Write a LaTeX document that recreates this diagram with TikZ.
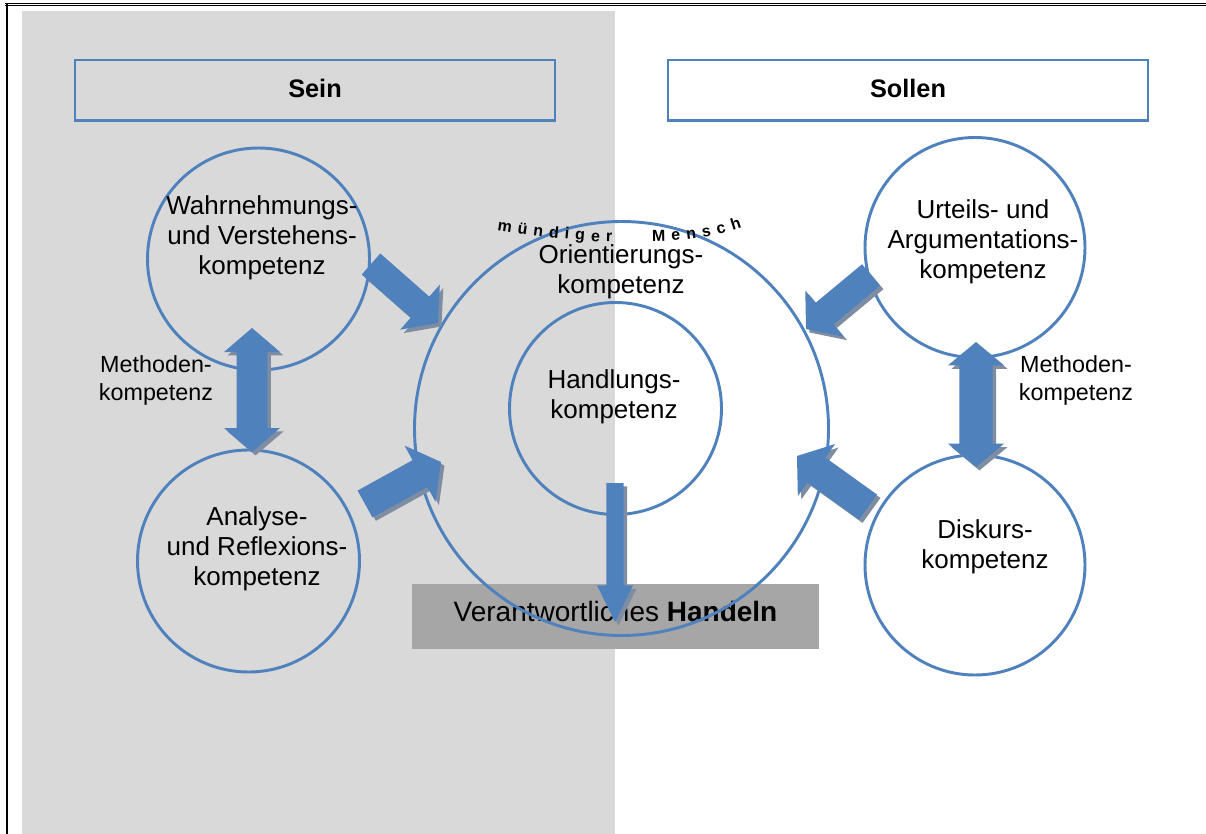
\documentclass[tikz,border=0pt]{standalone}
\usepackage{fontspec}
\setmainfont{Liberation Sans}
\usetikzlibrary{calc,decorations.text}
\definecolor{kblue}{HTML}{4F81BD}
\definecolor{panelgray}{HTML}{D9D9D9}
\definecolor{hboxgray}{HTML}{A6A6A6}
\definecolor{shadowc}{HTML}{7F8DA3}
% single block arrow: #1 tail, #2 tip, #3 half shaft, #4 half head, #5 head length, #6 style
\newcommand\blkarrow[6]{%
  \coordinate (nk) at ($(#2)!#5!(#1)$);
  \path[#6] ($(#1)!#3!90:(#2)$) -- ($(nk)!#3!90:(#2)$) -- ($(nk)!#4!90:(#2)$) -- (#2)
    -- ($(nk)!#4!-90:(#2)$) -- ($(nk)!#3!-90:(#2)$) -- ($(#1)!#3!-90:(#2)$) -- cycle;}
% double block arrow
\newcommand\dblarrow[6]{%
  \coordinate (nka) at ($(#1)!#5!(#2)$);
  \coordinate (nkb) at ($(#2)!#5!(#1)$);
  \path[#6] (#1) -- ($(nka)!#4!90:(#2)$) -- ($(nka)!#3!90:(#2)$) -- ($(nkb)!#3!-90:(#1)$)
    -- ($(nkb)!#4!-90:(#1)$) -- (#2) -- ($(nkb)!#4!90:(#1)$) -- ($(nkb)!#3!90:(#1)$)
    -- ($(nka)!#3!-90:(#2)$) -- ($(nka)!#4!-90:(#2)$) -- cycle;}
\tikzset{
  ring/.style={circle, draw=kblue, line width=2.2pt, inner sep=0pt},
  headbox/.style={draw=kblue, line width=2pt, minimum width=360pt, minimum height=45.5pt},
  headtext/.style={font=\fontsize{19}{22.5}\selectfont\bfseries},
  ctext/.style={align=center, font=\fontsize{19.5}{22.5}\selectfont},
  mtext/.style={align=center, font=\fontsize{17.5}{21}\selectfont},
  arrfill/.style={fill=kblue},
  arrshadow/.style={fill=shadowc},
}
\begin{document}
\begin{tikzpicture}[x=0.75pt,y=-0.75pt]
\useasboundingbox (0,0) rectangle (1206,834);
\begin{scope}
\clip (0,0) rectangle (1206,834);
% frame and panel
\fill[panelgray] (22,11) rectangle (615,834);
\draw[black, line width=0.55pt, double=white, double distance=0.8pt] (1215,4.5) -- (5,4.5);
\draw[black, line width=1.5pt] (6.5,3.5) -- (6.5,840);
\end{scope}
% header boxes
\node[headbox] (sein) at (315,90.5) {};
\node[headbox] (sollen) at (908,90.5) {};
\node[headtext] (seint) at (315,88.5) {Sein};
\node[headtext] (sollent) at (908,88.5) {Sollen};
% action box
\node[fill=hboxgray, minimum width=305pt, minimum height=48.75pt, inner sep=0pt] (hbox) at (615.5,616.5) {};
\node[font=\fontsize{21}{24}\selectfont] (handeln) at (615.5,611) {Verantwortliches \textbf{Handeln}};
% circles
\node[ring, minimum size=166.5pt] (wahr) at (258.5,259) {};
\node[ring, minimum size=166.5pt] (anal) at (248.5,561) {};
\node[ring, minimum size=310.5pt] (orient) at (621.5,428.5) {};
\node[ring, minimum size=159pt] (handl) at (615.5,408.5) {};
\node[ring, minimum size=165pt] (urteil) at (975,247.5) {};
\node[ring, minimum size=165pt] (diskurs) at (975,565) {};
% arrow anchor coordinates
\coordinate (a1s) at (371,264); \coordinate (a1e) at (438,323);
\coordinate (a2s) at (365,504); \coordinate (a2e) at (441,462);
\coordinate (a3s) at (871,275); \coordinate (a3e) at (806,329);
\coordinate (a4s) at (868,507); \coordinate (a4e) at (797,456);
\coordinate (v1a) at (252,328); \coordinate (v1b) at (252,452);
\coordinate (v2a) at (976,342); \coordinate (v2b) at (976,467);
\coordinate (dna) at (615,483); \coordinate (dnb) at (615,622);
% shadows
\begin{scope}[transform canvas={xshift=2.6pt,yshift=-2.6pt}]
\blkarrow{a1s}{a1e}{10.5pt}{22.5pt}{18pt}{arrshadow}
\blkarrow{a2s}{a2e}{11.5pt}{24pt}{18pt}{arrshadow}
\blkarrow{a3s}{a3e}{10.5pt}{22.5pt}{18pt}{arrshadow}
\blkarrow{a4s}{a4e}{11.5pt}{24pt}{18pt}{arrshadow}
\dblarrow{v1a}{v1b}{11.6pt}{21pt}{18pt}{arrshadow}
\dblarrow{v2a}{v2b}{12.5pt}{21pt}{17.5pt}{arrshadow}
\blkarrow{dna}{dnb}{6.4pt}{13.5pt}{27.5pt}{arrshadow}
\end{scope}
% arrows
\blkarrow{a1s}{a1e}{10.5pt}{22.5pt}{18pt}{arrfill}
\blkarrow{a2s}{a2e}{11.5pt}{24pt}{18pt}{arrfill}
\blkarrow{a3s}{a3e}{10.5pt}{22.5pt}{18pt}{arrfill}
\blkarrow{a4s}{a4e}{11.5pt}{24pt}{18pt}{arrfill}
\dblarrow{v1a}{v1b}{11.6pt}{21pt}{18pt}{arrfill}
\dblarrow{v2a}{v2b}{12.5pt}{21pt}{17.5pt}{arrfill}
\blkarrow{dna}{dnb}{6.4pt}{13.5pt}{27.5pt}{arrfill}
% texts
\node[ctext] (twahr) at (262,238) {Wahrnehmungs-\\und Verstehens-\\kompetenz};
\node[ctext] (tanal) at (257,549) {Analyse-\\und Reflexions-\\kompetenz};
\node[ctext] (torient) at (621,272) {Orientierungs-\\kompetenz};
\node[ctext] (thandl) at (614,397) {Handlungs-\\kompetenz};
\node[ctext] (turteil) at (983,242) {Urteils- und\\Argumentations-\\kompetenz};
\node[ctext] (tdiskurs) at (985,547) {Diskurs-\\kompetenz};
\node[mtext] (meth1) at (156,380) {Methoden-\\kompetenz};
\node[mtext] (meth2) at (1076,380) {Methoden-\\kompetenz};
% curved text
\path[decorate, decoration={text along path, text align=fit to path stretching spaces,
  text={|\fontsize{12}{14}\selectfont\bfseries|m ü n d i g e r}}]
  (497,230) .. controls (535,236) and (575,241) .. (612,242);
\path[decorate, decoration={text along path, text align=fit to path stretching spaces,
  text={|\fontsize{12}{14}\selectfont\bfseries|M e n s c h}}]
  (652,241) .. controls (690,241) and (715,236) .. (742,227);
\end{tikzpicture}
\end{document}
